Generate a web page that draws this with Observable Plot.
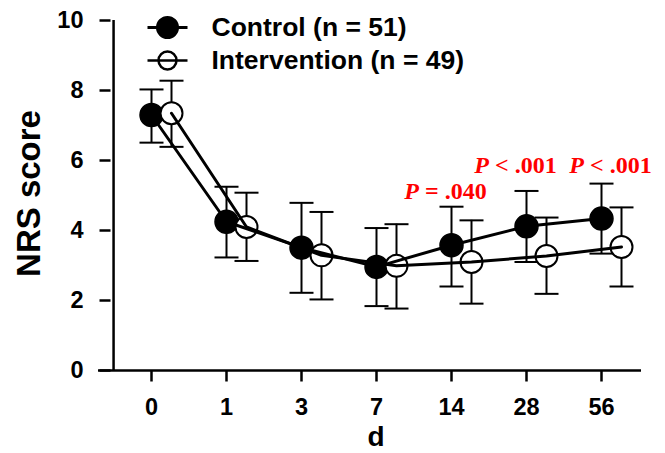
<!DOCTYPE html>
<html><head><meta charset="utf-8">
<script src="https://cdn.jsdelivr.net/npm/d3@7"></script>
<script src="https://cdn.jsdelivr.net/npm/@observablehq/plot@0.6"></script>
<style>
body{margin:0;background:#fff;}
#chart svg{display:block;}
</style>
</head><body><div id="chart"></div>
<script>
// ---- data ----
const days = ["0","1","3","7","14","28","56"];
const controlMean = [7.30,4.25,3.51,2.96,3.58,4.12,4.34];
const controlHi   = [8.03,5.25,4.79,4.07,4.68,5.13,5.34];
const controlLo   = [6.51,3.23,2.22,1.84,2.40,3.10,3.34];
const interMean   = [7.35,4.10,3.29,2.99,3.10,3.27,3.53];
const interHi     = [8.28,5.08,4.53,4.18,4.29,4.37,4.66];
const interLo     = [6.39,3.13,2.03,1.77,1.91,2.19,2.40];
const seriesNames = ["Control (n = 51)", "Intervention (n = 49)"];
const yTicks = [0,2,4,6,8,10];
const pDays  = ["14","28","56"];
const pTexts = ["P = .040","P < .001","P < .001"];
const pY     = [4.91,5.64,5.64];

// ---- layout ----
const W = 665, H = 453, mL = 110, mR = 24, mT = 20, mB = 83;
const step = (W - mL - mR) / days.length;
const offset = 20; // intervention shifted right
const font = "'Liberation Sans', Arial, sans-serif";
const serif = "'Liberation Serif', 'Times New Roman', serif";

const ctrl = days.map((d,i)=>({day:d, mean:controlMean[i], lo:controlLo[i], hi:controlHi[i]}));
const intv = days.map((d,i)=>({day:d, mean:interMean[i], lo:interLo[i], hi:interHi[i]}));

const capSymbol = { draw(ctx) { ctx.moveTo(-12, 0); ctx.lineTo(12, 0); } };
const yTickSymbol = { draw(ctx) { ctx.moveTo(-11, 0); ctx.lineTo(0, 0); } };
const xTickSymbol = { draw(ctx) { ctx.moveTo(0, 0); ctx.lineTo(0, 11); } };

function errorBars(data, dx) {
  return [
    Plot.ruleX(data, {x:"day", y1:"lo", y2:"hi", dx, stroke:"#000", strokeWidth:2}),
    Plot.dot(data, {x:"day", y:"lo", dx, symbol: capSymbol, fill:"none", stroke:"#000", strokeWidth:2}),
    Plot.dot(data, {x:"day", y:"hi", dx, symbol: capSymbol, fill:"none", stroke:"#000", strokeWidth:2})
  ];
}

const legendSymbol = {
  draw(ctx, size) {
    const r = Math.sqrt(size / Math.PI);
    ctx.moveTo(-20, 0); ctx.lineTo(20, 0);
    ctx.moveTo(r, 0); ctx.arc(0, 0, r, 0, 2 * Math.PI); ctx.closePath();
  }
};

const pDx = [-6, -11, 9];

const chart = Plot.plot({
  width: W, height: H,
  marginLeft: mL, marginRight: mR, marginTop: mT, marginBottom: mB,
  style: {fontFamily: font, fontWeight: "bold", color: "#000", background: "#fff", overflow: "visible"},
  x: {type: "point", domain: days, padding: 0.5, axis: null},
  y: {domain: [0, 10], axis: null},
  marks: [
    // axes
    Plot.ruleY([0], {stroke:"#000", strokeWidth:2.5, insetLeft:-12}),
    Plot.ruleX([days[0]], {x: d => d, dx: -step/2, stroke:"#000", strokeWidth:2.5}),
    Plot.dot(yTicks, {y: d => d, frameAnchor: "left", symbol: yTickSymbol, fill: "none", stroke: "#000", strokeWidth: 2.5}),
    Plot.text(yTicks, {y: d => d, text: d => String(d), frameAnchor: "left", dx: -27, textAnchor: "end", lineAnchor: "middle", fontSize: 23.5, fontWeight: "bold", fill: "#000"}),
    Plot.dot(days, {x: d => d, frameAnchor: "bottom", symbol: xTickSymbol, fill: "none", stroke: "#000", strokeWidth: 2.5}),
    Plot.text(days, {x: d => d, text: d => d, frameAnchor: "bottom", dy: 37, textAnchor: "middle", lineAnchor: "middle", fontSize: 23.5, fontWeight: "bold", fill: "#000"}),
    // error bars
    ...errorBars(ctrl, 0),
    ...errorBars(intv, offset),
    // dots
    Plot.dot(ctrl, {x:"day", y:"mean", r:11.5, fill:"#000", stroke:"#000", strokeWidth:1.5}),
    Plot.dot(intv, {x:"day", y:"mean", dx: offset, r:11, fill:"#fff", stroke:"#000", strokeWidth:2}),
    // lines
    Plot.line(ctrl, {x:"day", y:"mean", stroke:"#000", strokeWidth:3}),
    Plot.line(intv, {x:"day", y:"mean", dx: offset, stroke:"#000", strokeWidth:3}),
    // p-values
    ...pTexts.map((t,i) => Plot.text([t], {x: () => pDays[i], y: () => pY[i], text: d => d, dx: pDx[i],
      lineAnchor: "bottom", textAnchor: "middle", fill: "#ff0000", fontSize: 24, fontWeight: "bold",
      fontFamily: serif})),
    // legend
    Plot.dot([0], {x:null, y:null, frameAnchor:"top-left", dx:57, dy:7, r:10, symbol: legendSymbol, fill:"#000", stroke:"#000", strokeWidth:3}),
    Plot.dot([0], {x:null, y:null, frameAnchor:"top-left", dx:57, dy:40, r:9, symbol: legendSymbol, fill:"#fff", stroke:"#000", strokeWidth:2.5}),
    Plot.text([seriesNames[0]], {x:null, y:null, text:d=>d, frameAnchor:"top-left", dx:101, dy:7, textAnchor:"start", lineAnchor:"middle", fontSize:26.5, fontWeight:"bold"}),
    Plot.text([seriesNames[1]], {x:null, y:null, text:d=>d, frameAnchor:"top-left", dx:101, dy:40, textAnchor:"start", lineAnchor:"middle", fontSize:26.5, fontWeight:"bold"}),
    // axis titles
    Plot.text(["NRS score"], {x:null, y:null, text:d=>d, frameAnchor:"left", dx:-81, dy:-2, rotate:-90, textAnchor:"middle", fontSize:33, fontWeight:"bold", lineAnchor:"middle"}),
    Plot.text(["d"], {x:null, y:null, text:d=>d, frameAnchor:"bottom", dy:67, textAnchor:"middle", fontSize:28, fontWeight:"bold", lineAnchor:"middle"})
  ]
});

// italic "P"
d3.select(chart).selectAll("text").filter(function() { return pTexts.includes(this.textContent); }).each(function() {
  const t = this.textContent;
  const sel = d3.select(this);
  sel.text(null);
  sel.append("tspan").attr("font-style", "italic").text(t.slice(0, 1));
  sel.append("tspan").text(t.slice(1));
});

document.getElementById("chart").appendChild(chart);
</script>
</body></html>
